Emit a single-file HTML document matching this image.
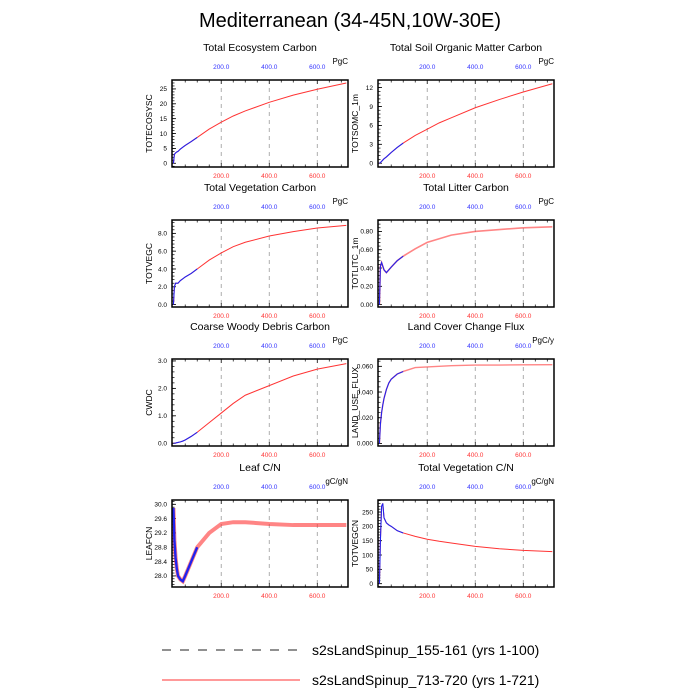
<!DOCTYPE html>
<html><head><meta charset="utf-8"><style>
body{margin:0;background:#fff;}
svg{display:block;font-family:"Liberation Sans",sans-serif;}
</style></head><body>
<svg id="chart" width="700" height="700" viewBox="0 0 700 700">
<text x="350" y="27" text-anchor="middle" font-size="20">Mediterranean (34-45N,10W-30E)</text>
<g id="panels"></g>
<g>
<line x1="162" y1="650" x2="300" y2="650" stroke="#222" stroke-width="1" stroke-dasharray="9,9"/>
<text x="312" y="655" font-size="14">s2sLandSpinup_155-161 (yrs 1-100)</text>
<line x1="162" y1="680" x2="300" y2="680" stroke="#f33" stroke-width="1"/>
<text x="312" y="685" font-size="14">s2sLandSpinup_713-720 (yrs 1-721)</text>
</g>
</svg>
<script>
const years = [1,5,10,15,20,30,40,50,75,100,150,200,250,300,400,500,600,721];
const xTicks = [200,400,600];
const xTickLabels = ["200.0","400.0","600.0"];
const titles = ["Total Ecosystem Carbon","Total Soil Organic Matter Carbon","Total Vegetation Carbon","Total Litter Carbon","Coarse Woody Debris Carbon","Land Cover Change Flux","Leaf C/N","Total Vegetation C/N"];
const yTitles = ["TOTECOSYSC","TOTSOMC_1m","TOTVEGC","TOTLITC_1m","CWDC","LAND_USE_FLUX","LEAFCN","TOTVEGCN"];
const units = ["PgC","PgC","PgC","PgC","PgC","PgC/y","gC/gN","gC/gN"];
const totecosysc = [0,3,3.5,3.8,4,4.8,5.4,6,7.3,8.7,11.5,13.8,15.9,17.6,20.5,22.9,24.9,27];
const totsomc = [0,0.1,0.3,0.5,0.7,1.0,1.35,1.7,2.5,3.2,4.4,5.4,6.4,7.2,8.8,10.1,11.3,12.6];
const totvegc = [0,2.0,2.4,2.4,2.4,2.7,2.9,3.1,3.5,4.0,5.0,5.8,6.5,7.0,7.7,8.2,8.6,8.9];
const totlitc = [0,0.42,0.46,0.42,0.38,0.35,0.38,0.41,0.48,0.53,0.61,0.68,0.72,0.76,0.80,0.82,0.84,0.85];
const cwdc = [0,0,0.01,0.02,0.03,0.05,0.08,0.12,0.25,0.4,0.75,1.1,1.45,1.75,2.1,2.45,2.7,2.9];
const landuse = [0,0.015,0.024,0.03,0.035,0.042,0.047,0.05,0.054,0.056,0.059,0.0595,0.06,0.0605,0.061,0.061,0.0612,0.0613];
const leafcn = [29.9,29.0,28.5,28.2,28.0,27.9,27.85,28.0,28.4,28.8,29.2,29.45,29.5,29.5,29.45,29.42,29.42,29.42];
const totvegcn = [0,150,270,280,230,212,205,200,185,177,165,155,148,142,130,122,116,112];
const series = [totecosysc,totsomc,totvegc,totlitc,cwdc,landuse,leafcn,totvegcn];
const yTickVals = [[0,5,10,15,20,25],[0,3,6,9,12],[0,2,4,6,8],[0,0.2,0.4,0.6,0.8],[0,1,2,3],[0,0.02,0.04,0.06],[28.0,28.4,28.8,29.2,29.6,30.0],[0,50,100,150,200,250]];
const yDecimals = [0,0,1,2,1,3,1,0];
const yDomains = [[-1.25,28],[-0.6,13.2],[-0.27,9.5],[-0.026,0.925],[-0.1,3.07],[-0.002,0.0657],[27.69,30.12],[-11.6,292]];
const bandWidth = [1,1,1,1.6,1,1.4,4,1];

const NS="http://www.w3.org/2000/svg";
const root=document.getElementById('panels');
function mk(tag,attrs,parent){const e=document.createElementNS(NS,tag);for(const k in attrs)e.setAttribute(k,attrs[k]);(parent||root).appendChild(e);return e;}
const colX=[172,378], rowY=[80,220,359,500], W=176, H=87;
for(let i=0;i<8;i++){
  const L=colX[i%2], T=rowY[Math.floor(i/2)];
  const g=mk('g',{});
  
  
  const xs=v=>L+(v+5)/(733)*W;
  const [y0,y1]=yDomains[i];
  const ys=v=>T+H-(v-y0)/(y1-y0)*H;
  let t=mk('text',{x:L+W/2,y:T-29,'text-anchor':'middle','font-size':10.5},g);t.textContent=titles[i];
  
  t=mk('text',{x:L+W,y:T-16,'text-anchor':'end','font-size':8},g);t.textContent=units[i];
  
  t=mk('text',{transform:`translate(${L-20},${T+H/2}) rotate(-90)`,'text-anchor':'middle','font-size':8.5},g);t.textContent=yTitles[i];
  
  xTicks.forEach((v,k)=>{
    const x=xs(v);
    const gl=mk('line',{x1:x,x2:x,y1:T,y2:T+H,stroke:'#999','stroke-width':0.8,'stroke-dasharray':'4,4'},g);
    
    let a=mk('text',{x:x,y:T-11,'text-anchor':'middle','font-size':6.5,fill:'#33f'},g);a.textContent=xTickLabels[k];
    
    a=mk('text',{x:x,y:T+H+11,'text-anchor':'middle','font-size':6.5,fill:'#f33'},g);a.textContent=xTickLabels[k];
    
  });
  for(let v=50;v<=700;v+=50){const x=xs(v);const len=(v%200===0)?4:2.5;
    mk('line',{x1:x,x2:x,y1:T+H,y2:T+H-len,stroke:'#000','stroke-width':0.7},g);
    mk('line',{x1:x,x2:x,y1:T,y2:T+len,stroke:'#000','stroke-width':0.7},g);}
  const yt=yTickVals[i], step=yt[1]-yt[0];
  for(let v=yt[0]-step;v<=y1;v+=step/5){ if(v<y0)continue; const y=ys(v);
    mk('line',{x1:L,x2:L+2.5,y1:y,y2:y,stroke:'#000','stroke-width':0.7},g);}
  yt.forEach(v=>{const y=ys(v);
    mk('line',{x1:L,x2:L+4,y1:y,y2:y,stroke:'#000','stroke-width':0.8},g);
    const a=mk('text',{x:L-5,y:y+2.3,'text-anchor':'end','font-size':6.5},g);a.textContent=v.toFixed(yDecimals[i]);
    });
  const vals=series[i];
  const red=years.map((yr,k)=>xs(yr)+','+ys(vals[k])).join(' ');
  const r=mk('polyline',{points:red,fill:'none',stroke:'#f33','stroke-width':bandWidth[i],'stroke-opacity':bandWidth[i]>1?0.6:1},g);
  
  const bp=[];years.forEach((yr,k)=>{if(yr<=100)bp.push(xs(yr)+','+ys(vals[k]));});
  const b=mk('polyline',{points:bp.join(' '),fill:'none',stroke:'#22e','stroke-width':Math.max(1.1,bandWidth[i]*0.6)},g);
  
  const box=mk('rect',{x:L,y:T,width:W,height:H,fill:'none',stroke:'#000','stroke-width':1.5},g);
  
}
</script>
</body></html>
